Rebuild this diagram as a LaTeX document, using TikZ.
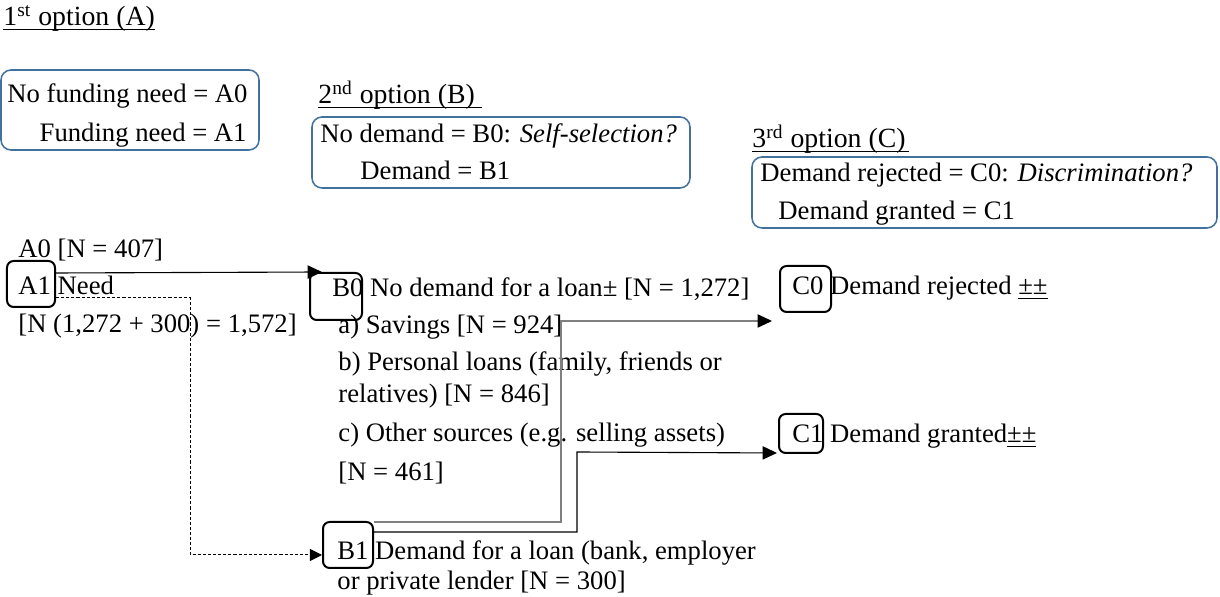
\documentclass[tikz,border=0pt]{standalone}
\usepackage{fontspec}
\setmainfont{Liberation Serif}
\usetikzlibrary{arrows.meta,calc}
\definecolor{boxblue}{HTML}{41719C}
\definecolor{linegray}{HTML}{808080}
\begin{document}
\begin{tikzpicture}[x=0.45pt,y=-0.45pt,
  txt/.style={inner sep=0pt, anchor=base west, font=\fontsize{12}{14}\selectfont},
  txtr/.style={txt, anchor=base east},
  head/.style={inner sep=0pt, anchor=base west, font=\fontsize{12.5}{14}\selectfont},
  uline/.style={line width=0.6pt},
  bluebox/.style={draw=boxblue, line width=0.7pt, rounded corners=4.5pt, inner sep=0pt},
  keybox/.style={draw=black, line width=0.9pt, rounded corners=3pt, inner sep=0pt},
  arr/.style={-{Triangle[length=6.5pt,width=6pt,color=black]}, line width=0.5pt},
  grayarr/.style={arr, draw=linegray},
  dasharr/.style={-{Triangle[length=5.5pt,width=5.5pt,color=black]}, line width=0.45pt, dash pattern=on 1.4pt off 0.9pt}
]
\useasboundingbox (0,0) rectangle (1220,597);

% headings
\node[head] (hA) at (3,26) {1\textsuperscript{st} option (A)};
\node[head] (hB) at (318,104) {2\textsuperscript{nd} option (B)};
\node[head] (hC) at (752,148) {3\textsuperscript{rd} option (C)};
\draw[uline] ($(hA.base west)+(0,3.5)$) -- ($(hA.base east)+(0,3.5)$);
\draw[uline] ($(hB.base west)+(0,3.5)$) -- ($(hB.base east)+(7,3.5)$);
\draw[uline] ($(hC.base west)+(0,3.5)$) -- ($(hC.base east)+(3,3.5)$);

% legend boxes
\node[bluebox, minimum width=116.1pt, minimum height=36pt] (boxA) at (130,110) {};
\node[bluebox, minimum width=170.1pt, minimum height=31.95pt] (boxB) at (501,152.5) {};
\node[bluebox, minimum width=209.25pt, minimum height=31.95pt] (boxC) at (984.5,192.5) {};

\node[txtr] (la0) at (248,103) {No funding need = A0};
\node[txtr] (la1) at (247,142) {Funding need = A1};
\node[txt] (lb0) at (320,143) {No demand = B0: \textit{Self-selection?}};
\node[txt] (lb1) at (360,180) {Demand = B1};
\node[txt] (lc0) at (760,182) {Demand rejected = C0: \textit{Discrimination?}};
\node[txt] (lc1) at (778,220) {Demand granted = C1};

% lower texts
\node[txt] (tA0) at (18,258) {A0 [N = 407]};
\node[txt] (tA1) at (18,295) {A1 Need};
\node[txt] (tN) at (18,333) {[N (1,272 + 300) = 1,572]};
\node[txt] (tB0) at (332,297) {B0 No demand for a loan± [N = 1,272]};
\node[txt] (ta) at (338,334) {a) Savings [N = 924]};
\node[txt] (tb) at (338,371) {b) Personal loans (family, friends or};
\node[txt] (tb2) at (338,403) {relatives) [N = 846]};
\node[txt] (tc) at (338,442) {c) Other sources (e.g. selling assets)};
\node[txt] (tc2) at (338,481) {[N = 461]};
\node[txt] (tB1) at (337,560) {B1 Demand for a loan (bank, employer};
\node[txt] (tB1b) at (337,590) {or private lender [N = 300]};
\node[txt] (tC0) at (792,295) {C0 Demand rejected \underline{±±}};
\node[txt] (tC1) at (792,443) {C1 Demand granted\underline{±±}};

% key boxes
\node[keybox, minimum width=21.6pt, minimum height=20.7pt] (A1) at (31,284) {};
\node[keybox, minimum width=23.4pt, minimum height=21.15pt] (B0) at (336,296.5) {};
\node[keybox, minimum width=22.5pt, minimum height=20.7pt] (B1) at (348,545) {};
\node[keybox, minimum width=22.95pt, minimum height=20.7pt] (C0) at (805.5,289) {};
\node[keybox, minimum width=19.8pt, minimum height=17.55pt] (C1) at (801,433.5) {};

% connectors
\draw[arr] ($(A1.east)+(0,-11)$) -- ($(B0.north west)+(13,0)$);
\draw[dasharr] ($(A1.east)+(0,14)$) -- ++(134,0) |- ($(B1.west)+(0,10)$);
\draw[grayarr] ($(B1.north east)+(0,1)$) -| (561,321) -- ($(C0.west)+(-7,32)$);
\draw[arr] ($(B1.north east)+(0,11)$) -| (577,452) -- ($(C1.south west)+(-1,-1)$);
\end{tikzpicture}
\end{document}
